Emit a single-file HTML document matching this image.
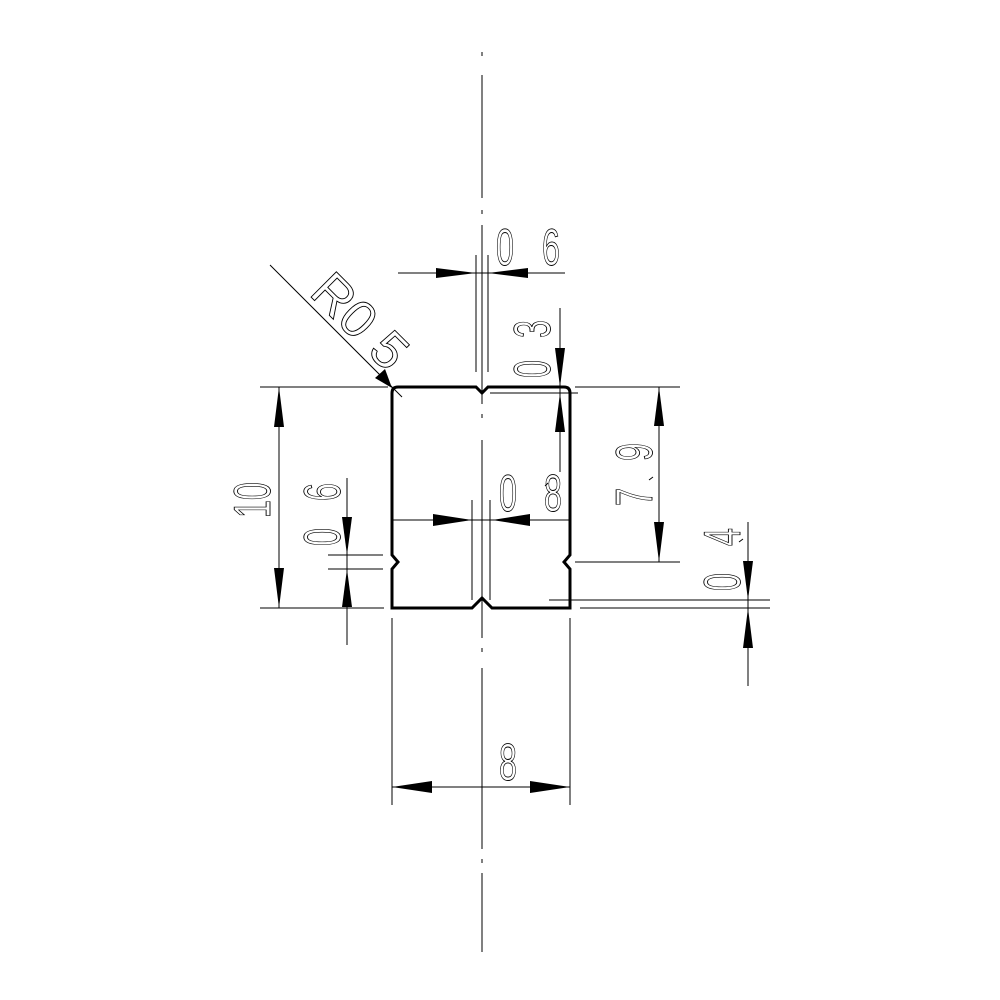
<!DOCTYPE html>
<html><head><style>html,body{margin:0;padding:0;background:#fff;}svg{display:block}</style></head>
<body>
<svg width="1000" height="1000" viewBox="0 0 1000 1000" xmlns="http://www.w3.org/2000/svg">
<g stroke="#000" stroke-width="1" fill="none">
<path d="M482 52V56 M482 75V198 M482 210V214 M482 225V404 M482 414V418 M482 440V638 M482 648V652 M482 668V849 M482 859V863 M482 873V952"/>
<path d="M398 273H565 M476 255V372 M488 255V372"/>
<path d="M270 265L402 397"/>
<path d="M560 308V472 M490 393H578"/>
<path d="M575 387H680 M575 562H680 M659 387V562"/>
<path d="M260 387H388 M260 608H384 M279 387V608"/>
<path d="M347 478V645 M328 555H383 M328 569H383"/>
<path d="M392 520H570 M472 500V600 M490 500V600"/>
<path d="M748 522V686 M549 600H770 M580 608H770"/>
<path d="M392 787H570 M392 618V805 M570 618V805"/>
</g>
<path d="M398 387H476L482 393L488 387H564Q570 387 570 393V555L564 562L570 569V608H492L482 598L472 608H392V569L398 562L392 555V393Q392 387 398 387Z" fill="none" stroke="#000" stroke-width="3"/>
<g fill="#000">
<polygon points="436,268 476,273 436,278"/>
<polygon points="528,268 488,273 528,278"/>
<polygon points="392,388 375,378 385,369"/>
<polygon points="555,348 565,348 560,387"/>
<polygon points="555,432 565,432 560,393"/>
<polygon points="654,426 664,426 659,387"/>
<polygon points="654,522 664,522 659,562"/>
<polygon points="274,427 284,427 279,387"/>
<polygon points="274,568 284,568 279,608"/>
<polygon points="342,517 352,517 347,555"/>
<polygon points="342,607 352,607 347,569"/>
<polygon points="433,514 472,520 433,526"/>
<polygon points="530,514 492,520 530,526"/>
<polygon points="743,561 753,561 748,600"/>
<polygon points="743,648 753,648 748,608"/>
<polygon points="432,781 392,787 432,793"/>
<polygon points="530,781 570,787 530,793"/>
</g>
<g font-family="Liberation Sans, sans-serif" fill="none" stroke="#000" stroke-width="0.9" font-size="52">
<text transform="translate(496,265) scale(0.62,1)">0</text>
<text transform="translate(542,265) scale(0.62,1)">6</text>
<text transform="translate(499,780) scale(0.62,1)">8</text>
<text transform="translate(499,511) scale(0.62,1)">0</text>
<text transform="translate(544,511) scale(0.62,1)">8</text>
<text transform="translate(308,294) rotate(45)" textLength="112" lengthAdjust="spacingAndGlyphs">R0 5</text>
<text transform="translate(270,518) rotate(-90) scale(0.62,1)">10</text>
<text transform="translate(340,546) rotate(-90) scale(0.62,1)">0</text>
<text transform="translate(340,501) rotate(-90) scale(0.62,1)">6</text>
<text transform="translate(550,378) rotate(-90) scale(0.62,1)">0</text>
<text transform="translate(550,338) rotate(-90) scale(0.62,1)">3</text>
<text transform="translate(652,506) rotate(-90) scale(0.62,1)">7</text>
<text transform="translate(652,461) rotate(-90) scale(0.62,1)">9</text>
<text transform="translate(740,591) rotate(-90) scale(0.62,1)">0</text>
<text transform="translate(740,546) rotate(-90) scale(0.62,1)">4</text>
</g>
<path d="M649 480l4-3 M739 542l4-3 M545 486l3-3" stroke="#000" fill="none"/>
</svg>
</body></html>
